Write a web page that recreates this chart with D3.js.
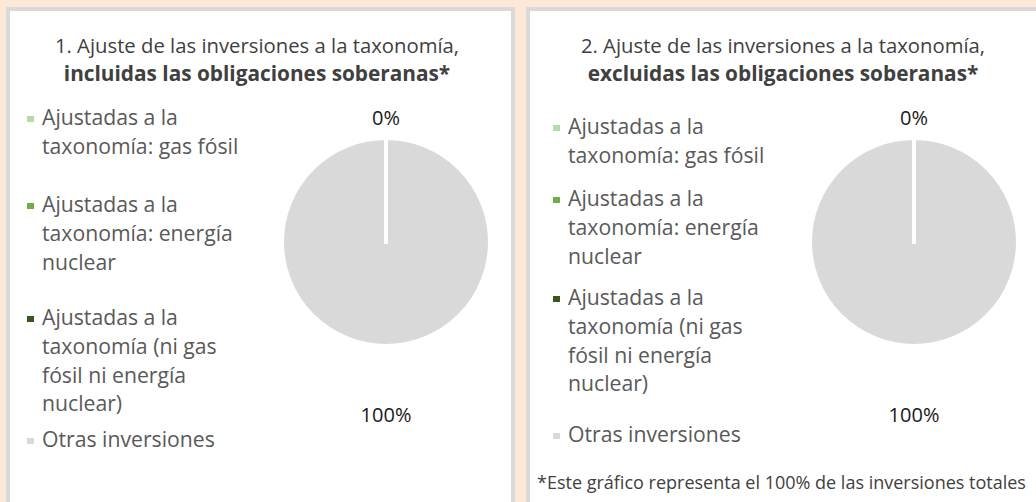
<!DOCTYPE html>
<html>
<head>
<meta charset="utf-8">
<script src="https://cdn.jsdelivr.net/npm/d3@7"></script>
<style>
  html, body { margin: 0; padding: 0; background: #fbe8d6; overflow: hidden; }
  svg { display: block; }
  text { font-family: "Open Sans", sans-serif; }
</style>
</head>
<body>
<svg id="chart" width="1036" height="502"></svg>
<script>
// ---- Data ----
const categories = [
  "Ajustadas a la taxonomía: gas fósil",
  "Ajustadas a la taxonomía: energía nuclear",
  "Ajustadas a la taxonomía (ni gas fósil ni energía nuclear)",
  "Otras inversiones"
];
const legendLines = [
  ["Ajustadas a la", "taxonomía: gas fósil"],
  ["Ajustadas a la", "taxonomía: energía", "nuclear"],
  ["Ajustadas a la", "taxonomía (ni gas", "fósil ni energía", "nuclear)"],
  ["Otras inversiones"]
];
const colors = ["#b7dba7", "#70ad47", "#375623", "#d9d9d9"];
const valuesIncluded = [0, 0, 0, 100];
const valuesExcluded = [0, 0, 0, 100];
const titles1 = ["1. Ajuste de las inversiones a la taxonomía,", "incluidas las obligaciones soberanas*"];
const titles2 = ["2. Ajuste de las inversiones a la taxonomía,", "excluidas las obligaciones soberanas*"];
const footnote = "*Este gráfico representa el 100% de las inversiones totales";

// ---- Layout ----
const svg = d3.select("#chart");

const panels = [
  { x: 6, w: 509, titleCx: 257, pieCx: 386, legendX: 27, legendY: [125, 212, 325, 447], lineH: 28.8,
    values: valuesIncluded, titles: titles1, footnote: false },
  { x: 526, w: 520, titleCx: 783, pieCx: 914, legendX: 553, legendY: [134, 206, 305, 442], lineH: 28.8,
    values: valuesExcluded, titles: titles2, footnote: true }
];

panels.forEach(p => {
  const g = svg.append("g");
  g.append("rect")
    .attr("x", p.x + 2).attr("y", 9)
    .attr("width", p.w - 4).attr("height", 600)
    .attr("fill", "#ffffff")
    .attr("stroke", "#d9d9d9").attr("stroke-width", 4);

  // Title
  const t = g.append("text")
    .attr("x", p.titleCx).attr("y", 53)
    .attr("text-anchor", "middle")
    .attr("fill", "#404040")
    .attr("font-size", 20.3);
  t.append("tspan").attr("x", p.titleCx).attr("dy", 0).text(p.titles[0]);
  t.append("tspan").attr("x", p.titleCx).attr("dy", 28).attr("font-weight", 700)
    .attr("font-size", 20.8).text(p.titles[1]);

  // Legend
  const leg = g.selectAll("g.leg").data(categories).enter().append("g").attr("class", "leg");
  leg.append("rect")
    .attr("x", p.legendX)
    .attr("y", (d, i) => p.legendY[i] - 9)
    .attr("width", 7).attr("height", 6)
    .attr("fill", (d, i) => colors[i]);
  const lt = leg.append("text")
    .attr("fill", "#595959")
    .attr("font-size", 21.2)
    .attr("y", (d, i) => p.legendY[i]);
  lt.each(function(d, i) {
    const sel = d3.select(this);
    legendLines[i].forEach((line, j) => {
      sel.append("tspan")
        .attr("x", p.legendX + 15)
        .attr("dy", j === 0 ? 0 : p.lineH)
        .text(line);
    });
  });

  // Pie
  const r = 104;
  const cy = 242;
  const pie = d3.pie().sort(null).value(d => d);
  const arc = d3.arc().innerRadius(0).outerRadius(r);
  const arcs = pie(p.values);
  const pg = g.append("g").attr("transform", `translate(${p.pieCx},${cy})`);
  // draw the largest slices first so zero-width slice borders remain visible on top
  const drawOrder = arcs.slice().sort((a, b) => b.value - a.value);
  pg.selectAll("path").data(drawOrder).enter().append("path")
    .attr("d", arc)
    .attr("fill", d => colors[d.index])
    .attr("stroke", "#ffffff")
    .attr("stroke-width", 4)
    .attr("stroke-linejoin", "round")
    .attr("stroke-linecap", "round");

  // Labels: zero-value slices share one label above, main slice label below
  const fmt = v => d3.format(".0f")(v) + "%";
  const labelArcTop = d3.arc().innerRadius(r + 20).outerRadius(r + 20);
  const labelArcBottom = d3.arc().innerRadius(r + 69).outerRadius(r + 69);
  const shown = [arcs[0], arcs[3]];
  pg.selectAll("text.lbl").data(shown).enter().append("text")
    .attr("class", "lbl")
    .attr("transform", d => {
      const a = d.value === 0 ? labelArcTop : labelArcBottom;
      const c = a.centroid(d);
      return `translate(${c[0]},${c[1]})`;
    })
    .attr("text-anchor", "middle")
    .attr("dy", "0.36em")
    .attr("fill", "#1a1a1a")
    .attr("font-size", 20)
    .text(d => fmt(d.value));

  if (p.footnote) {
    g.append("text")
      .attr("x", p.x + 11).attr("y", 489)
      .attr("fill", "#404040")
      .attr("font-size", 18)
      .text(footnote);
  }
});
</script>
</body>
</html>
